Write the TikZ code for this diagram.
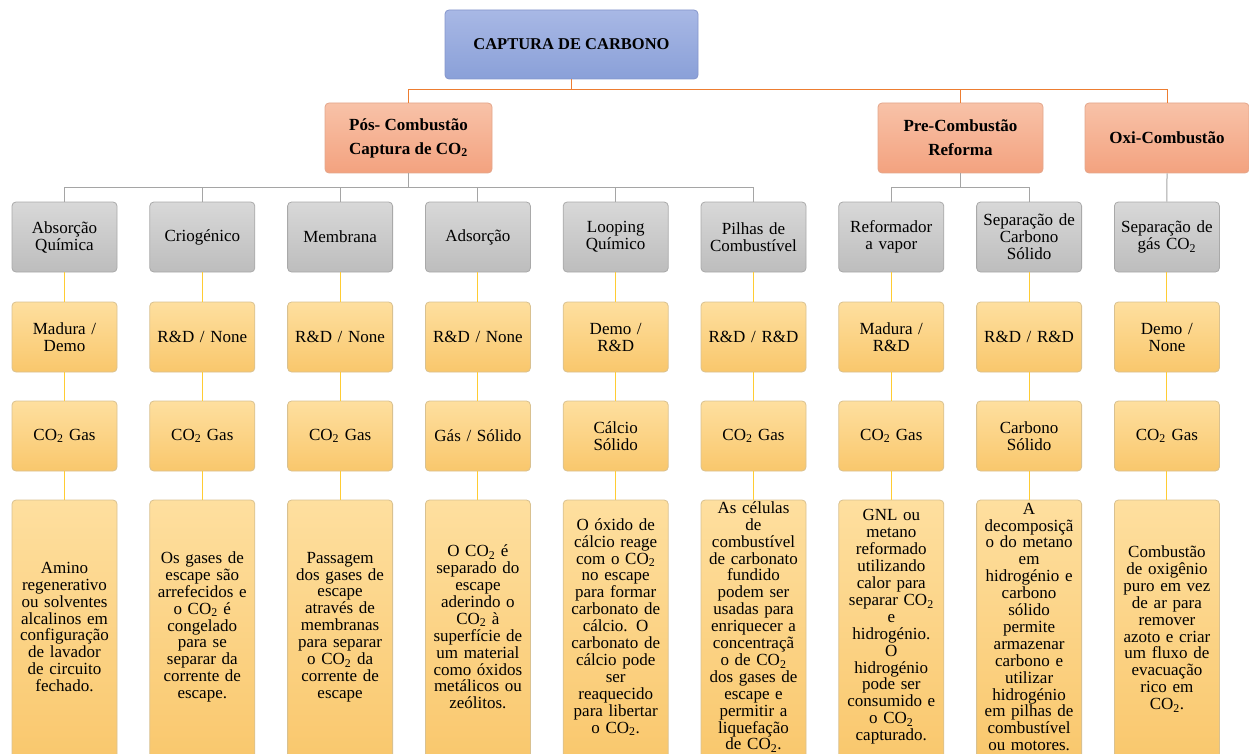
\documentclass[tikz,border=0pt]{standalone}
\usepackage{fontspec}
\setmainfont{Liberation Serif}
\usetikzlibrary{shadings}
\newcommand{\cotwo}{CO\textsubscript{2}}
\definecolor{rootT}{HTML}{A8B8E5}
\definecolor{rootB}{HTML}{8AA0D8}
\definecolor{rootD}{HTML}{8495CB}
\definecolor{salT}{HTML}{F8C2A8}
\definecolor{salB}{HTML}{F3A27F}
\definecolor{salD}{HTML}{E3A68B}
\definecolor{grT}{HTML}{D8D8D8}
\definecolor{grB}{HTML}{BDBDBD}
\definecolor{grD}{HTML}{A9A9A9}
\definecolor{yeT}{HTML}{FEDF9F}
\definecolor{yeB}{HTML}{F9C76C}
\definecolor{yeD}{HTML}{D9C190}
\definecolor{orLine}{HTML}{ED7D31}
\definecolor{grLine}{HTML}{A5A5A5}
\definecolor{yeLine}{HTML}{FFCC33}
\begin{document}
\begin{tikzpicture}[x=1pt,y=-1pt,
  basebox/.style={rectangle, rounded corners=4pt, inner sep=1pt, align=center, line width=0.8pt},
  rootbox/.style={basebox, top color=rootT, bottom color=rootB, draw=rootD,
    minimum width=253pt, minimum height=69pt, font=\fontsize{16.5}{17}\selectfont\bfseries},
  salbox/.style={basebox, top color=salT, bottom color=salB, draw=salD,
    minimum height=70pt, font=\fontsize{17}{24}\selectfont\bfseries},
  graybox/.style={basebox, top color=grT, bottom color=grB, draw=grD,
    minimum width=105pt, minimum height=70pt, text width=103pt, font=\fontsize{17}{17}\selectfont},
  yelbox/.style={basebox, top color=yeT, bottom color=yeB, draw=yeD,
    minimum width=105pt, minimum height=70pt, text width=103pt, font=\fontsize{17}{17}\selectfont},
  descbox/.style={basebox, top color=yeT, bottom color=yeB, draw=yeD,
    minimum width=105pt, minimum height=264pt},
  desctext/.style={align=center, inner sep=0pt, text width=103pt, font=\fontsize{17}{16.9}\selectfont},
  oline/.style={draw=orLine, line width=1pt},
  gline/.style={draw=grLine, line width=1pt},
  yline/.style={draw=yeLine, line width=1pt}
]
\useasboundingbox (0,0) rectangle (1249,754);
\clip (0,0) rectangle (1249,754);

% level 1 and 2
\node[rootbox] (root) at (571.5,44.5) {CAPTURA DE CARBONO};
\node[salbox, minimum width=167pt] (pos) at (408.5,138) {Pós- Combustão\\Captura de \cotwo};
\node[salbox, minimum width=165pt] (pre) at (960.5,138) {Pre-Combustão\\Reforma};
\node[salbox, minimum width=164pt] (oxi) at (1167,138) {Oxi-Combustão};

% level 3
\node[graybox] (g1) at (64.5,237) {Absorção\\Química};
\node[graybox] (g2) at (202.3,237) {Criogénico};
\node[graybox] (g3) at (340.1,237) {Membrana};
\node[graybox] (g4) at (477.9,237) {Adsorção};
\node[graybox] (g5) at (615.7,237) {Looping\\Químico};
\node[graybox] (g6) at (753.5,237) {Pilhas de\\Combustível};
\node[graybox] (g7) at (891.3,237) {Reformador\\a vapor};
\node[graybox] (g8) at (1029.1,237) {Separação de\\Carbono\\Sólido};
\node[graybox] (g9) at (1166.9,237) {Separação de\\gás \cotwo};

% level 4
\node[yelbox] (m1) at (64.5,337) {Madura /\\Demo};
\node[yelbox] (m2) at (202.3,337) {R\&D / None};
\node[yelbox] (m3) at (340.1,337) {R\&D / None};
\node[yelbox] (m4) at (477.9,337) {R\&D / None};
\node[yelbox] (m5) at (615.7,337) {Demo /\\R\&D};
\node[yelbox] (m6) at (753.5,337) {R\&D / R\&D};
\node[yelbox] (m7) at (891.3,337) {Madura /\\R\&D};
\node[yelbox] (m8) at (1029.1,337) {R\&D / R\&D};
\node[yelbox] (m9) at (1166.9,337) {Demo /\\None};

% level 5
\node[yelbox] (p1) at (64.5,436) {\cotwo{} Gas};
\node[yelbox] (p2) at (202.3,436) {\cotwo{} Gas};
\node[yelbox] (p3) at (340.1,436) {\cotwo{} Gas};
\node[yelbox] (p4) at (477.9,436) {Gás / Sólido};
\node[yelbox] (p5) at (615.7,436) {Cálcio\\Sólido};
\node[yelbox] (p6) at (753.5,436) {\cotwo{} Gas};
\node[yelbox] (p7) at (891.3,436) {\cotwo{} Gas};
\node[yelbox] (p8) at (1029.1,436) {Carbono\\Sólido};
\node[yelbox] (p9) at (1166.9,436) {\cotwo{} Gas};

% level 6 boxes
\node[descbox] (d1) at (64.5,632) {};
\node[descbox] (d2) at (202.3,632) {};
\node[descbox] (d3) at (340.1,632) {};
\node[descbox] (d4) at (477.9,632) {};
\node[descbox] (d5) at (615.7,632) {};
\node[descbox] (d6) at (753.5,632) {};
\node[descbox] (d7) at (891.3,632) {};
\node[descbox] (d8) at (1029.1,632) {};
\node[descbox] (d9) at (1166.9,632) {};

% level 6 texts
\node[desctext] (t1) at (64.5,627) {Amino\\regenerativo\\ou solventes\\alcalinos em\\configuração\\de lavador\\de circuito\\fechado.};
\node[desctext] (t2) at (202.3,627) {Os gases de\\escape são\\arrefecidos e\\o \cotwo{} é\\congelado\\para se\\separar da\\corrente de\\escape.};
\node[desctext] (t3) at (340.1,627) {Passagem\\dos gases de\\escape\\através de\\membranas\\para separar\\o \cotwo{} da\\corrente de\\escape};
\node[desctext] (t4) at (477.9,627) {O \cotwo{} é\\separado do\\escape\\aderindo o\\\cotwo{} à\\superfície de\\um material\\como óxidos\\metálicos ou\\zeólitos.};
\node[desctext] (t5) at (615.7,627) {O óxido de\\cálcio reage\\com o \cotwo\\no escape\\para formar\\carbonato de\\cálcio. O\\carbonato de\\cálcio pode\\ser\\reaquecido\\para libertar\\o \cotwo.};
\node[desctext] (t6) at (753.5,627) {As células\\de\\combustível\\de carbonato\\fundido\\podem ser\\usadas para\\enriquecer a\\concentraçã\\o de \cotwo\\dos gases de\\escape e\\permitir a\\liquefação\\de \cotwo.};
\node[desctext] (t7) at (891.3,627) {GNL ou\\metano\\reformado\\utilizando\\calor para\\separar \cotwo\\e\\hidrogénio.\\O\\hidrogénio\\pode ser\\consumido e\\o \cotwo\\capturado.};
\node[desctext] (t8) at (1029.1,627) {A\\decomposiçã\\o do metano\\em\\hidrogénio e\\carbono\\sólido\\permite\\armazenar\\carbono e\\utilizar\\hidrogénio\\em pilhas de\\combustível\\ou motores.};
\node[desctext] (t9) at (1166.9,629) {Combustão\\de oxigênio\\puro em vez\\de ar para\\remover\\azoto e criar\\um fluxo de\\evacuação\\rico em\\\cotwo.};

% connectors level 1-2
\coordinate (busT) at (0,90);
\coordinate (busP) at (0,188);
\draw[oline] (root.south) -- (root.south |- busT);
\draw[oline] (pos.north) |- (busT -| oxi.north) -- (oxi.north);
\draw[oline] (pre.north) -- (pre.north |- busT);

% connectors level 2-3
\draw[gline] (pos.south) -- (pos.south |- busP);
\draw[gline] (g1.north) |- (busP -| g6.north) -- (g6.north);
\draw[gline] (g2.north) -- (g2.north |- busP);
\draw[gline] (g3.north) -- (g3.north |- busP);
\draw[gline] (g4.north) -- (g4.north |- busP);
\draw[gline] (g5.north) -- (g5.north |- busP);
\draw[gline] (pre.south) -- (pre.south |- busP);
\draw[gline] (g7.north) |- (busP -| g8.north) -- (g8.north);
\draw[gline] (oxi.south) -- (g9.north);

% yellow connectors
\foreach \i in {1,...,9} {
  \draw[yline] (g\i.south) -- (m\i.north);
  \draw[yline] (m\i.south) -- (p\i.north);
  \draw[yline] (p\i.south) -- (d\i.north);
}
\end{tikzpicture}
\end{document}
